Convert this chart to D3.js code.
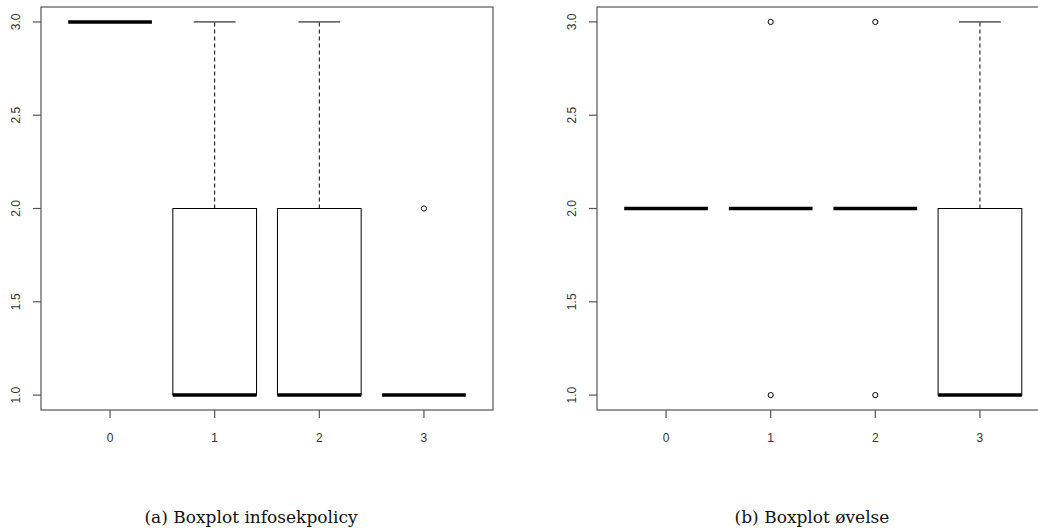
<!DOCTYPE html>
<html>
<head>
<meta charset="utf-8">
<script src="https://cdn.jsdelivr.net/npm/d3@7"></script>
<style>
html, body { margin: 0; padding: 0; background: #fff; }
svg { display: block; }
</style>
</head>
<body>
<svg id="chart" width="1038" height="531"></svg>
<script>
// ---- data ----
const categories = ["0", "1", "2", "3"];
const yTicks = [1.0, 1.5, 2.0, 2.5, 3.0];

// Panel (a) infosekpolicy
const infosekLow     = [3, 1, 1, 1];
const infosekQ1      = [3, 1, 1, 1];
const infosekMedian  = [3, 1, 1, 1];
const infosekQ3      = [3, 2, 2, 1];
const infosekHigh    = [3, 3, 3, 1];
const infosekOutliers = [[], [], [], [2]];

// Panel (b) øvelse
const ovelseLow      = [2, 2, 2, 1];
const ovelseQ1       = [2, 2, 2, 1];
const ovelseMedian   = [2, 2, 2, 1];
const ovelseQ3       = [2, 2, 2, 2];
const ovelseHigh     = [2, 2, 2, 3];
const ovelseOutliers = [[], [1, 3], [1, 3], []];

const captions = ["(a) Boxplot infosekpolicy", "(b) Boxplot øvelse"];

// ---- drawing ----
const svg = d3.select("#chart");
const axisColor = "#555";
const textColor = "#333";

function panel(opts) {
  const g = svg.append("g");
  const x = d3.scaleLinear().domain([0.34, 4.66]).range([opts.left, opts.right]);
  const y = d3.scaleLinear().domain([0.92, 3.08]).range([410, 7]);
  const halfW = (x(1.4) - x(1));
  const capW = halfW / 2;

  // frame
  g.append("rect")
    .attr("x", x.range()[0]).attr("y", y.range()[1])
    .attr("width", x.range()[1] - x.range()[0])
    .attr("height", y.range()[0] - y.range()[1])
    .attr("fill", "none").attr("stroke", axisColor).attr("stroke-width", 1.2);

  // y axis
  yTicks.forEach(t => {
    g.append("line")
      .attr("x1", x.range()[0] - 8).attr("x2", x.range()[0])
      .attr("y1", y(t)).attr("y2", y(t))
      .attr("stroke", axisColor).attr("stroke-width", 1.2);
    g.append("text")
      .attr("transform", `translate(${x.range()[0] - 21},${y(t)}) rotate(-90)`)
      .attr("text-anchor", "middle")
      .attr("font-family", "Liberation Sans, Arial, sans-serif")
      .attr("font-size", 12)
      .attr("fill", textColor)
      .text(t.toFixed(1));
  });

  // x axis
  categories.forEach((c, i) => {
    const cx = x(i + 1);
    g.append("line")
      .attr("x1", cx).attr("x2", cx)
      .attr("y1", y.range()[0]).attr("y2", y.range()[0] + 8)
      .attr("stroke", axisColor).attr("stroke-width", 1.2);
    g.append("text")
      .attr("x", cx).attr("y", 442)
      .attr("text-anchor", "middle")
      .attr("font-family", "Liberation Sans, Arial, sans-serif")
      .attr("font-size", 12)
      .attr("fill", textColor)
      .text(c);
  });

  // boxes
  categories.forEach((c, i) => {
    const cx = x(i + 1);
    const lo = opts.low[i], q1 = opts.q1[i], med = opts.median[i], q3 = opts.q3[i], hi = opts.high[i];
    // upper whisker
    if (hi > q3) {
      g.append("line")
        .attr("x1", cx).attr("x2", cx).attr("y1", y(q3)).attr("y2", y(hi))
        .attr("stroke", "#000").attr("stroke-width", 1).attr("stroke-dasharray", "4,3");
      g.append("line")
        .attr("x1", cx - capW).attr("x2", cx + capW).attr("y1", y(hi)).attr("y2", y(hi))
        .attr("stroke", "#000").attr("stroke-width", 1);
    }
    if (lo < q1) {
      g.append("line")
        .attr("x1", cx).attr("x2", cx).attr("y1", y(q1)).attr("y2", y(lo))
        .attr("stroke", "#000").attr("stroke-width", 1).attr("stroke-dasharray", "4,3");
      g.append("line")
        .attr("x1", cx - capW).attr("x2", cx + capW).attr("y1", y(lo)).attr("y2", y(lo))
        .attr("stroke", "#000").attr("stroke-width", 1);
    }
    // box
    g.append("rect")
      .attr("x", cx - halfW).attr("y", y(q3))
      .attr("width", 2 * halfW).attr("height", y(q1) - y(q3))
      .attr("fill", "none").attr("stroke", "#000").attr("stroke-width", 1);
    // median
    g.append("line")
      .attr("x1", cx - halfW).attr("x2", cx + halfW).attr("y1", y(med)).attr("y2", y(med))
      .attr("stroke", "#000").attr("stroke-width", 3.5);
    // outliers
    opts.outliers[i].forEach(v => {
      g.append("circle")
        .attr("cx", cx).attr("cy", y(v)).attr("r", 2.6)
        .attr("fill", "none").attr("stroke", "#000").attr("stroke-width", 1);
    });
  });

  // caption
  svg.append("text")
    .attr("x", opts.captionX).attr("y", 523)
    .attr("text-anchor", "middle")
    .attr("font-family", "DejaVu Serif, serif")
    .attr("font-size", 17)
    .attr("fill", "#111")
    .text(opts.caption);
}

panel({ left: 41, right: 493, low: infosekLow, q1: infosekQ1, median: infosekMedian,
        q3: infosekQ3, high: infosekHigh, outliers: infosekOutliers,
        caption: captions[0], captionX: 251 });
panel({ left: 597, right: 1049, low: ovelseLow, q1: ovelseQ1, median: ovelseMedian,
        q3: ovelseQ3, high: ovelseHigh, outliers: ovelseOutliers,
        caption: captions[1], captionX: 812 });
</script>
</body>
</html>
